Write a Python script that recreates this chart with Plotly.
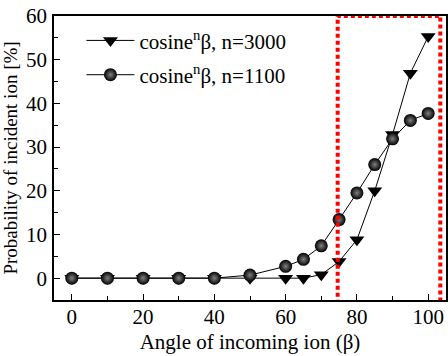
import plotly.graph_objects as go

angles_3000 = [0, 10, 20, 30, 40, 50, 60, 65, 70, 75, 80, 85, 90, 95, 100]
prob_3000 = [0, 0, 0, 0, 0, 0, 0, 0, 0.8, 3.8, 8.8, 20.0, 32.9, 46.9, 55.3]
angles_1100 = [0, 10, 20, 30, 40, 50, 60, 65, 70, 75, 80, 85, 90, 95, 100]
prob_1100 = [0, 0, 0, 0, 0, 0.7, 2.7, 4.3, 7.4, 13.4, 19.5, 26.0, 31.9, 36.1, 37.7]

x_ticks = [0, 20, 40, 60, 80, 100]
y_ticks = [0, 10, 20, 30, 40, 50, 60]
box = dict(x0=74.6, x1=103.4, y0=-5.9, y1=60)

font = "Liberation Serif, Times New Roman, serif"

fig = go.Figure()
fig.add_trace(go.Scatter(
    x=angles_3000, y=prob_3000, mode="lines+markers",
    name="cosine<sup>n</sup>β, n=3000", legendgroup="a",
    line=dict(color="black", width=1),
    marker=dict(symbol="triangle-down", size=13, color="black"),
))
fig.add_trace(go.Scatter(
    x=angles_1100, y=prob_1100, mode="lines+markers",
    name="cosine<sup>n</sup>β, n=1100", legendgroup="b",
    line=dict(color="black", width=1),
    marker=dict(symbol="circle", size=13, color="black",
                gradient=dict(type="radial", color="#808080"),
                line=dict(width=0)),
))

fig.add_shape(type="rect", xref="x", yref="y", **box,
              line=dict(color="red", width=4, dash="4px,3px"), layer="above")

fig.update_layout(
    width=448, height=356,
    margin=dict(l=54, r=0, t=16, b=56),
    paper_bgcolor="white", plot_bgcolor="white",
    font=dict(family=font, size=21, color="black"),
    showlegend=True,
    legend=dict(x=0.07, y=0.985, xanchor="left", yanchor="top",
                bgcolor="rgba(0,0,0,0)", font=dict(size=21, family=font),
                traceorder="grouped", tracegroupgap=4, itemwidth=48),
    xaxis=dict(range=[-5, 105], tickvals=x_ticks, ticks="inside", ticklen=6,
               tickcolor="black", showline=True, linecolor="black", linewidth=1.5,
               mirror=True, showgrid=False, zeroline=False,
               tickfont=dict(size=21), ticklabelstandoff=-3,
               minor=dict(dtick=10, tick0=0, ticks="inside", ticklen=4, tickcolor="black"),
               title=dict(text="Angle of incoming ion (β)", font=dict(size=21), standoff=6)),
    yaxis=dict(range=[-5, 60], tickvals=y_ticks, ticks="inside", ticklen=6,
               tickcolor="black", showline=True, linecolor="black", linewidth=1.5,
               mirror=True, showgrid=False, zeroline=False,
               tickfont=dict(size=21), ticklabelstandoff=1,
               minor=dict(dtick=5, tick0=0, ticks="inside", ticklen=4, tickcolor="black"),
               title=dict(text="Probability of incident ion [%]", font=dict(size=19), standoff=3)),
)

fig.write_html("out.html")
